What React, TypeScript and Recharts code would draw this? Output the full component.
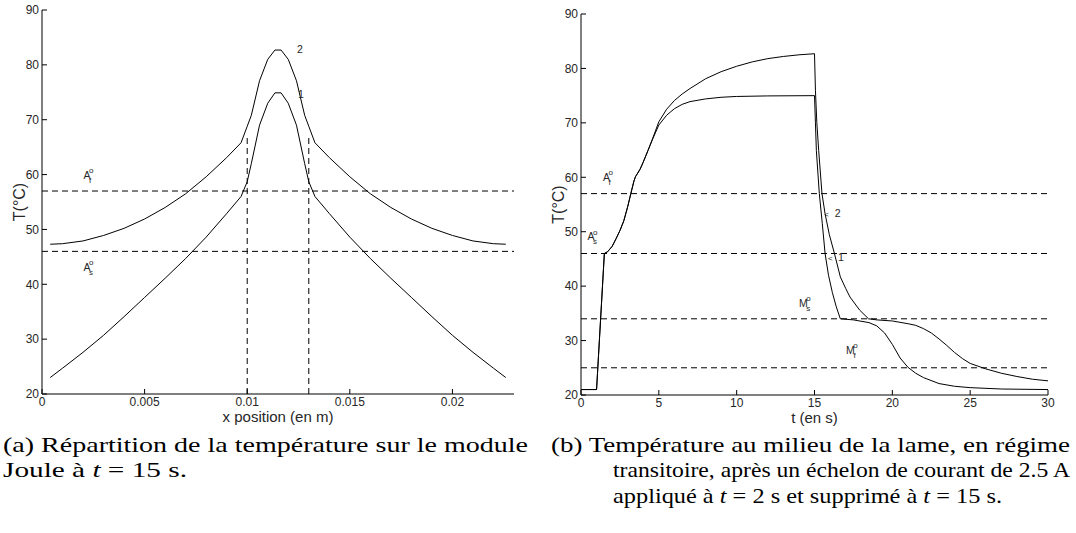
import React from 'react';
import { LineChart, Line, XAxis, YAxis, ReferenceLine, ReferenceDot } from 'recharts';

// ---------- Chart (a): temperature along the Joule module at t = 15 s ----------
const posA = [0.0004, 0.001, 0.002, 0.003, 0.004, 0.005, 0.006, 0.007, 0.008, 0.009, 0.0097, 0.01, 0.0102, 0.0106, 0.011, 0.01135, 0.01165, 0.012, 0.0124, 0.0128, 0.013, 0.0133, 0.014, 0.015, 0.016, 0.017, 0.018, 0.019, 0.02, 0.021, 0.022, 0.0226];
const tempA2 = [47.3, 47.4, 47.9, 48.9, 50.2, 51.9, 54.0, 56.5, 59.6, 63.1, 65.8, 68.8, 70.8, 77.1, 81.0, 82.7, 82.7, 81.0, 77.1, 70.8, 68.8, 65.8, 63.1, 59.6, 56.5, 54.0, 51.9, 50.2, 48.9, 47.9, 47.4, 47.3];
const tempA1 = [23.0, 24.7, 27.6, 30.7, 34.1, 37.6, 41.1, 44.7, 48.6, 52.9, 56.0, 58.7, 62.0, 69.0, 73.0, 74.9, 74.9, 73.0, 69.0, 62.0, 58.7, 56.0, 52.9, 48.6, 44.7, 41.1, 37.6, 34.1, 30.7, 27.6, 24.7, 23.0];
const ticksXA = [0, 0.005, 0.01, 0.015, 0.02];
const levelsA = [57, 46];
const moduleEdges = [0.01, 0.013];
const moduleTop = 67.2;

// ---------- Chart (b): temperature vs time ----------
const timeB1 = [0, 1.0, 1.5, 1.7, 2.0, 2.25, 2.5, 2.75, 3.0, 3.2, 3.4, 3.5, 3.8, 4.0, 4.3, 4.6, 5.0, 5.5, 6.0, 6.5, 7.0, 8.0, 9.0, 10, 12, 15, 15.06, 15.12, 15.31, 15.5, 15.68, 15.9, 16.15, 16.4, 16.66, 17.5, 18.5, 19.0, 19.5, 20.0, 20.5, 21.0, 21.5, 22, 23, 24, 25, 27, 30];
const tempB1 = [21, 21, 46, 46.3, 47.3, 48.7, 50.2, 52.0, 54.6, 57.0, 59.3, 60.1, 61.5, 62.8, 64.9, 67.0, 69.6, 71.4, 72.6, 73.4, 73.9, 74.4, 74.7, 74.85, 74.95, 75.0, 70, 64.9, 57, 51.5, 46, 42, 38.8, 36.2, 34.0, 33.8, 33.3, 32.7, 31.4, 29.3, 26.8, 25.1, 24.0, 23.2, 22.1, 21.6, 21.35, 21.1, 21.0];
const timeB2 = [0, 1.0, 1.5, 1.7, 2.0, 2.25, 2.5, 2.75, 3.0, 3.2, 3.4, 3.5, 3.8, 4.0, 4.3, 4.6, 5.0, 5.5, 6.0, 6.5, 7.0, 8.0, 9.0, 10, 11, 12, 13, 14, 15, 15.06, 15.15, 15.27, 15.48, 15.68, 15.95, 16.28, 16.66, 17.0, 17.28, 17.9, 18.47, 19.0, 20.0, 21.0, 21.5, 22.0, 22.5, 23.0, 23.5, 24.0, 24.5, 25.0, 26.0, 27.0, 28.0, 29.0, 30];
const tempB2 = [21, 21, 46, 46.3, 47.3, 48.7, 50.2, 52.0, 54.6, 57.0, 59.3, 60.1, 61.5, 62.8, 64.9, 67.1, 70.2, 72.5, 74.1, 75.3, 76.3, 78.1, 79.4, 80.4, 81.2, 81.8, 82.2, 82.5, 82.7, 76, 70, 64.9, 57, 53.3, 49.5, 46, 41.7, 39.6, 38.0, 35.6, 34.0, 33.8, 33.6, 33.1, 32.8, 32.2, 31.4, 30.3, 29.1, 27.8, 26.7, 25.8, 24.8, 24.0, 23.4, 22.9, 22.6];
const ticksXB = [0, 5, 10, 15, 20, 25, 30];
const levelsB = [57, 46, 34, 25];

const ticksY = [20, 30, 40, 50, 60, 70, 80, 90];

// annotations: [main, sup, sub, x, y]
const notesA: [string, string, string, number, number][] = [
  ['A', 'o', 'f', 0.00202, 59.25],
  ['A', 'o', 's', 0.00202, 42.4],
  ['2', '', '', 0.01242, 82.1],
  ['1', '', '', 0.01247, 74.0],
];
const notesB: [string, string, string, number, number][] = [
  ['A', 'o', 'f', 1.41, 59.4],
  ['A', 'o', 's', 0.41, 48.4],
  ['M', 'o', 's', 14.0, 36.2],
  ['M', 'o', 'f', 17.03, 27.5],
  ['2', '', '', 16.3, 52.7],
  ['1', '', '', 16.51, 44.6],
  ['<', '', '', 15.62, 52.7],
  ['<', '', '', 15.87, 44.6],
];

const dataA1 = posA.map((x, i) => ({ x, T: tempA1[i] }));
const dataA2 = posA.map((x, i) => ({ x, T: tempA2[i] }));
const dataB1 = timeB1.map((x, i) => ({ x, T: tempB1[i] }));
const dataB2 = timeB2.map((x, i) => ({ x, T: tempB2[i] }));

const SANS = 'Liberation Sans, Arial, sans-serif';
const SERIF = 'Liberation Serif, Times New Roman, serif';
const TXT = '#262626';
const DASH = '6 4';

const NoteShape = (main: string, sup: string, sub: string) => (props: any) => {
  const { cx, cy } = props;
  const small = main === '<';
  return (
    <text x={cx} y={cy} fill={TXT} fontSize={small ? 8 : 10.5} style={{ fontFamily: SANS }}>
      <tspan>{main}</tspan>
      {sup ? <tspan fontSize={8} dx={-1.5} dy={-5.7}>{sup}</tspan> : null}
      {sub ? <tspan fontSize={8} dx={-4.4} dy={9.7}>{sub}</tspan> : null}
    </text>
  );
};

const XTitle = (props: any) => {
  const { viewBox, value, plotBottom } = props;
  return (
    <text x={viewBox.x + viewBox.width / 2} y={plotBottom + 28} textAnchor="middle" fill={TXT} fontSize={15} style={{ fontFamily: SANS }}>
      {value}
    </text>
  );
};

const YTitle = (props: any) => {
  const { value, plotTop, plotBottom, plotLeft } = props;
  const x = plotLeft - 17;
  const y = (plotTop + plotBottom) / 2;
  return (
    <text x={x} y={y} transform={`rotate(-90 ${x} ${y})`} textAnchor="middle" fill={TXT} fontSize={16} style={{ fontFamily: SANS }}>
      {value}
    </text>
  );
};

const tickStyle = { fill: TXT, fontSize: 12, style: { fontFamily: SANS } };
const black = { stroke: '#000', strokeWidth: 1 };

function Panel(props: {
  width: number; height: number; margin: any; xDomain: [number, number]; xTicks: number[];
  series: any[]; levels: number[]; notes: [string, string, string, number, number][];
  xTitle: string; plotTop: number; plotBottom: number; plotLeft: number; children?: React.ReactNode;
}) {
  const { width, height, margin, xDomain, xTicks, series, levels, notes, xTitle, plotTop, plotBottom, plotLeft } = props;
  return (
    <LineChart width={width} height={height} margin={margin} style={{ fontFamily: SANS }}>
      <XAxis
        xAxisId={0} dataKey="x" type="number" domain={xDomain} ticks={xTicks} allowDataOverflow
        height={30} tickSize={-5} tickMargin={8} tick={tickStyle} axisLine={black} tickLine={black}
        label={<XTitle value={xTitle} plotBottom={plotBottom} />}
      />
      <XAxis
        xAxisId="top" orientation="top" type="number" domain={xDomain} ticks={xTicks} allowDataOverflow
        height={0} tickSize={-5} tick={false} axisLine={black} tickLine={black}
      />
      <YAxis
        yAxisId={0} type="number" domain={[20, 90]} ticks={ticksY} allowDataOverflow
        width={30} tickSize={-5} tickMargin={8} tick={tickStyle} axisLine={black} tickLine={black}
        label={<YTitle value="T(°C)" plotTop={plotTop} plotBottom={plotBottom} plotLeft={plotLeft} />}
      />
      <YAxis
        yAxisId="right" orientation="right" type="number" domain={[20, 90]} ticks={ticksY} allowDataOverflow
        width={0} tickSize={-5} tick={false} axisLine={black} tickLine={black}
      />
      {levels.map((v) => (
        <ReferenceLine key={'h' + v} y={v} stroke="#000" strokeWidth={1} strokeDasharray={DASH} />
      ))}
      {props.children}
      {series.map((d, i) => (
        <Line key={i} data={d} dataKey="T" type="linear" stroke="#000" strokeWidth={1} dot={false} isAnimationActive={false} />
      ))}
      {notes.map(([m, sp, sb, x, y], i) => (
        <ReferenceDot key={'n' + i} x={x} y={y} r={0} shape={NoteShape(m, sp, sb)} />
      ))}
    </LineChart>
  );
}

export default function App() {
  const cap = { fontFamily: SERIF, fontSize: 22 };
  return (
    <div style={{ position: 'absolute', left: 0, top: 0, width: 1076, height: 533, background: '#fff', overflow: 'hidden' }}>
      <div style={{ position: 'absolute', left: 0, top: 0 }}>
        <Panel
          width={540} height={440} margin={{ top: 10, right: 26, left: 12, bottom: 16 }}
          xDomain={[0, 0.023]} xTicks={ticksXA} series={[dataA1, dataA2]} levels={levelsA}
          notes={notesA} xTitle="x position (en m)" plotTop={10} plotBottom={394} plotLeft={42}
        >
          {moduleEdges.map((e) => (
            <ReferenceLine
              key={'v' + e}
              segment={[{ x: e, y: 20 }, { x: e, y: moduleTop }]}
              stroke="#000" strokeWidth={1} strokeDasharray={DASH}
            />
          ))}
        </Panel>
      </div>
      <div style={{ position: 'absolute', left: 540, top: 0 }}>
        <Panel
          width={536} height={440} margin={{ top: 14, right: 28, left: 11, bottom: 15 }}
          xDomain={[0, 30]} xTicks={ticksXB} series={[dataB1, dataB2]} levels={levelsB}
          notes={notesB} xTitle="t (en s)" plotTop={14} plotBottom={395} plotLeft={41}
        />
      </div>
      <svg width={1076} height={533} style={{ position: 'absolute', left: 0, top: 0 }}>
        <g fill="#000">
          <text x={3} y={452} style={cap} textLength={525} lengthAdjust="spacingAndGlyphs">(a) Répartition de la température sur le module</text>
          <text x={3} y={477} style={cap} textLength={184} lengthAdjust="spacingAndGlyphs">
            Joule à <tspan fontStyle="italic">t</tspan> = 15 s.
          </text>
          <text x={551} y={452} style={cap} textLength={519} lengthAdjust="spacingAndGlyphs">(b) Température au milieu de la lame, en régime</text>
          <text x={613} y={477} style={cap} textLength={457} lengthAdjust="spacingAndGlyphs">transitoire, après un échelon de courant de 2.5 A</text>
          <text x={613} y={503} style={cap} textLength={389} lengthAdjust="spacingAndGlyphs">
            appliqué à <tspan fontStyle="italic">t</tspan> = 2 s et supprimé à <tspan fontStyle="italic">t</tspan> = 15 s.
          </text>
        </g>
      </svg>
    </div>
  );
}
